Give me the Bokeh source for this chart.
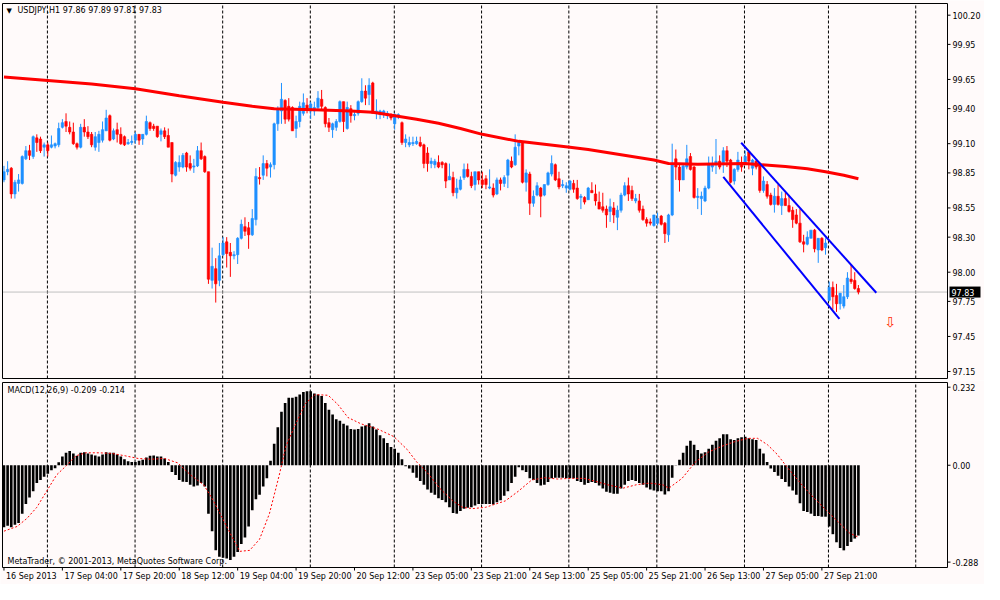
from bokeh.plotting import figure
from bokeh.layouts import column
from bokeh.models import Range1d
from bokeh.embed import file_html
from bokeh.resources import INLINE
from bokeh.core.properties import value

# ---------------- data ----------------
opens = [
    98.79, 98.86, 98.89, 98.67, 98.76, 98.76, 98.97, 99.04, 98.99, 99.15,
    99.14, 99.07, 99.09, 99.07, 99.08, 99.09, 99.24, 99.29, 99.24, 99.20,
    99.10, 99.07, 99.24, 99.20, 99.18, 99.07, 99.11, 99.13, 99.21, 99.34,
    99.14, 99.22, 99.18, 99.16, 99.10, 99.11, 99.13, 99.18, 99.14, 99.18,
    99.28, 99.25, 99.25, 99.18, 99.21, 99.17, 99.11, 98.83, 98.90, 98.90,
    99.02, 98.93, 98.90, 98.91, 99.04, 98.99, 98.86, 97.93, 98.03, 97.93,
    98.15, 98.26, 98.17, 98.14, 98.15, 98.29, 98.39, 98.38, 98.32, 98.45,
    98.81, 98.83, 98.93, 98.90, 98.92, 99.27, 99.38, 99.47, 99.42, 99.41,
    99.23, 99.29, 99.36, 99.43, 99.38, 99.38, 99.41, 99.48, 99.41, 99.28,
    99.22, 99.24, 99.29, 99.46, 99.23, 99.40, 99.34, 99.36, 99.46, 99.55,
    99.52, 99.62, 99.36, 99.35, 99.35, 99.34, 99.35, 99.27, 99.33, 99.28,
    99.11, 99.09, 99.10, 99.10, 99.11, 99.09, 99.02, 98.93, 98.92, 98.94,
    98.94, 98.93, 98.79, 98.81, 98.68, 98.71, 98.81, 98.88, 98.82, 98.75,
    98.86, 98.79, 98.80, 98.72, 98.72, 98.67, 98.79, 98.76, 98.83, 98.95,
    98.92, 99.08, 99.11, 98.77, 98.84, 98.59, 98.66, 98.72, 98.66, 98.75,
    98.84, 98.92, 98.80, 98.74, 98.72, 98.71, 98.76, 98.72, 98.64, 98.64,
    98.62, 98.70, 98.67, 98.60, 98.56, 98.54, 98.52, 98.55, 98.47, 98.53,
    98.66, 98.74, 98.70, 98.61, 98.61, 98.54, 98.45, 98.43, 98.40, 98.42,
    98.48, 98.42, 98.32, 98.49, 98.97, 98.90, 98.79, 98.90, 98.99, 98.90,
    98.64, 98.63, 98.61, 98.72, 98.90, 98.92, 98.95, 98.94, 99.04, 98.96,
    98.78, 98.88, 98.94, 98.94, 99.03, 98.89, 98.95, 98.92, 98.70, 98.75,
    98.66, 98.58, 98.65, 98.57, 98.63, 98.57, 98.53, 98.49, 98.42, 98.26,
    98.24, 98.29, 98.36, 98.19, 98.29, 98.21, 97.76, 97.87, 97.80, 97.73,
    97.71, 97.79, 97.94, 97.93, 97.86,
]
highs = [
    98.91, 98.95, 98.90, 98.79, 98.84, 99.00, 99.08, 99.09, 99.17, 99.18,
    99.16, 99.11, 99.11, 99.17, 99.11, 99.28, 99.31, 99.36, 99.29, 99.28,
    99.11, 99.27, 99.31, 99.25, 99.20, 99.20, 99.21, 99.29, 99.39, 99.35,
    99.23, 99.28, 99.24, 99.17, 99.14, 99.17, 99.20, 99.18, 99.18, 99.34,
    99.29, 99.27, 99.25, 99.23, 99.24, 99.23, 99.11, 98.95, 99.00, 99.02,
    99.03, 99.00, 98.97, 99.08, 99.11, 99.00, 98.86, 98.21, 98.12, 98.25,
    98.30, 98.30, 98.25, 98.18, 98.30, 98.45, 98.47, 98.43, 98.54, 98.89,
    98.90, 99.00, 98.96, 98.94, 99.28, 99.42, 99.62, 99.48, 99.49, 99.42,
    99.34, 99.46, 99.53, 99.49, 99.46, 99.46, 99.55, 99.56, 99.42, 99.32,
    99.28, 99.31, 99.47, 99.46, 99.46, 99.43, 99.38, 99.47, 99.66, 99.60,
    99.66, 99.63, 99.48, 99.39, 99.39, 99.38, 99.36, 99.36, 99.36, 99.29,
    99.18, 99.16, 99.16, 99.16, 99.16, 99.10, 99.07, 98.98, 98.97, 99.00,
    98.95, 98.94, 98.93, 98.86, 98.80, 98.82, 98.93, 98.93, 98.86, 98.86,
    98.86, 98.86, 98.83, 98.88, 98.76, 98.81, 98.81, 98.83, 98.97, 98.99,
    99.18, 99.11, 99.11, 98.88, 98.86, 98.70, 98.77, 98.73, 98.75, 98.86,
    99.00, 98.93, 98.86, 98.79, 98.77, 98.79, 98.79, 98.79, 98.67, 98.65,
    98.73, 98.77, 98.75, 98.69, 98.68, 98.57, 98.63, 98.60, 98.57, 98.68,
    98.77, 98.81, 98.74, 98.67, 98.67, 98.57, 98.47, 98.46, 98.49, 98.51,
    98.49, 98.43, 98.50, 99.10, 99.05, 98.93, 98.93, 99.09, 99.02, 98.91,
    98.72, 98.69, 98.74, 98.99, 98.99, 99.14, 99.00, 99.07, 99.08, 98.97,
    98.89, 99.03, 98.99, 99.04, 99.03, 98.97, 98.96, 98.94, 98.82, 98.78,
    98.68, 98.72, 98.75, 98.69, 98.68, 98.66, 98.56, 98.54, 98.54, 98.32,
    98.35, 98.36, 98.37, 98.29, 98.30, 98.29, 97.92, 97.92, 97.90, 97.82,
    97.89, 98.00, 98.07, 98.00, 97.89,
]
lows = [
    98.77, 98.83, 98.63, 98.63, 98.69, 98.75, 98.96, 98.96, 98.97, 99.03,
    99.02, 98.99, 98.99, 99.06, 99.06, 99.07, 99.23, 99.20, 99.18, 99.09,
    99.05, 99.06, 99.16, 99.14, 99.07, 99.04, 99.03, 99.11, 99.21, 99.12,
    99.13, 99.11, 99.09, 99.08, 99.09, 99.09, 99.10, 99.09, 99.09, 99.17,
    99.21, 99.21, 99.15, 99.12, 99.14, 99.07, 98.77, 98.82, 98.86, 98.89,
    98.86, 98.87, 98.85, 98.90, 98.96, 98.85, 97.90, 97.86, 97.74, 97.88,
    98.14, 98.04, 97.96, 98.11, 98.07, 98.28, 98.31, 98.20, 98.31, 98.40,
    98.75, 98.79, 98.82, 98.81, 98.88, 99.21, 99.27, 99.27, 99.29, 99.21,
    99.15, 99.24, 99.34, 99.36, 99.31, 99.34, 99.39, 99.38, 99.24, 99.20,
    99.15, 99.21, 99.28, 99.20, 99.22, 99.28, 99.30, 99.34, 99.45, 99.43,
    99.43, 99.36, 99.31, 99.31, 99.32, 99.31, 99.30, 99.22, 99.31, 99.09,
    99.07, 99.07, 99.08, 99.09, 99.07, 98.89, 98.86, 98.89, 98.89, 98.89,
    98.89, 98.72, 98.79, 98.65, 98.63, 98.70, 98.79, 98.81, 98.72, 98.70,
    98.75, 98.72, 98.71, 98.71, 98.64, 98.66, 98.70, 98.73, 98.72, 98.89,
    98.91, 99.00, 98.76, 98.69, 98.49, 98.56, 98.65, 98.47, 98.65, 98.74,
    98.82, 98.78, 98.71, 98.72, 98.68, 98.70, 98.68, 98.62, 98.54, 98.58,
    98.62, 98.68, 98.57, 98.54, 98.51, 98.38, 98.43, 98.42, 98.36, 98.51,
    98.65, 98.61, 98.61, 98.59, 98.51, 98.44, 98.39, 98.40, 98.39, 98.40,
    98.40, 98.25, 98.26, 98.48, 98.79, 98.69, 98.79, 98.88, 98.87, 98.63,
    98.54, 98.49, 98.60, 98.71, 98.86, 98.84, 98.88, 98.85, 98.90, 98.76,
    98.75, 98.86, 98.86, 98.93, 98.88, 98.83, 98.88, 98.68, 98.68, 98.63,
    98.57, 98.51, 98.57, 98.49, 98.57, 98.51, 98.38, 98.41, 98.25, 98.17,
    98.23, 98.29, 98.17, 98.08, 98.18, 98.15, 97.75, 97.68, 97.66, 97.68,
    97.69, 97.77, 97.90, 97.85, 97.81,
]
closes = [
    98.86, 98.88, 98.67, 98.77, 98.79, 98.99, 99.04, 99.00, 99.16, 99.11,
    99.04, 99.09, 99.04, 99.09, 99.10, 99.23, 99.28, 99.25, 99.20, 99.10,
    99.07, 99.24, 99.20, 99.16, 99.09, 99.16, 99.18, 99.22, 99.32, 99.13,
    99.21, 99.18, 99.10, 99.09, 99.11, 99.12, 99.18, 99.13, 99.18, 99.29,
    99.23, 99.23, 99.16, 99.21, 99.16, 99.07, 98.84, 98.94, 98.94, 99.00,
    98.90, 98.89, 98.91, 99.04, 98.97, 98.86, 97.94, 98.05, 97.90, 98.14,
    98.25, 98.16, 98.14, 98.15, 98.29, 98.41, 98.35, 98.32, 98.46, 98.82,
    98.80, 98.93, 98.89, 98.92, 99.27, 99.39, 99.48, 99.31, 99.31, 99.21,
    99.29, 99.42, 99.45, 99.40, 99.44, 99.41, 99.49, 99.42, 99.27, 99.24,
    99.27, 99.29, 99.46, 99.29, 99.41, 99.34, 99.35, 99.46, 99.55, 99.49,
    99.60, 99.36, 99.38, 99.38, 99.38, 99.36, 99.32, 99.35, 99.35, 99.11,
    99.14, 99.11, 99.11, 99.12, 99.08, 98.93, 98.93, 98.95, 98.95, 98.90,
    98.92, 98.78, 98.82, 98.68, 98.72, 98.79, 98.88, 98.82, 98.74, 98.86,
    98.79, 98.75, 98.75, 98.73, 98.66, 98.79, 98.76, 98.81, 98.96, 98.90,
    99.07, 99.11, 98.77, 98.85, 98.59, 98.65, 98.74, 98.65, 98.75, 98.85,
    98.93, 98.79, 98.73, 98.75, 98.74, 98.78, 98.71, 98.63, 98.65, 98.60,
    98.72, 98.68, 98.61, 98.54, 98.53, 98.49, 98.56, 98.49, 98.53, 98.66,
    98.74, 98.67, 98.63, 98.63, 98.53, 98.45, 98.42, 98.42, 98.49, 98.46,
    98.41, 98.33, 98.49, 98.92, 98.90, 98.79, 98.91, 98.97, 98.88, 98.64,
    98.65, 98.65, 98.72, 98.92, 98.93, 98.95, 98.90, 99.04, 98.95, 98.77,
    98.88, 98.96, 98.90, 98.99, 98.95, 98.96, 98.90, 98.70, 98.78, 98.65,
    98.58, 98.65, 98.58, 98.63, 98.57, 98.52, 98.45, 98.42, 98.26, 98.24,
    98.30, 98.36, 98.20, 98.29, 98.19, 98.25, 97.87, 97.79, 97.73, 97.82,
    97.79, 97.95, 97.92, 97.86, 97.83,
]
# 200-period moving average (red), sampled at bar positions
ma_bar = [0, 12, 24, 36, 48, 60, 68, 74, 85, 95, 101, 107, 113, 119, 125, 131,
          141, 148, 155, 160, 166, 172, 178, 182, 190, 203, 214, 220, 225, 230, 234]
ma_val = [99.67, 99.64, 99.61, 99.57, 99.51, 99.455, 99.42, 99.40, 99.39, 99.38,
          99.37, 99.34, 99.31, 99.275, 99.23, 99.18, 99.12, 99.095, 99.07, 99.05,
          99.02, 98.99, 98.96, 98.93, 98.925, 98.93, 98.905, 98.885, 98.86, 98.83, 98.80]
# down-trend channel (blue)
chan_x0 = [201.9, 197.0]
chan_y0 = [99.108, 98.815]
chan_x1 = [238.9, 228.8]
chan_y1 = [97.824, 97.601]
# sell arrow
arrow_bar = [242.7]
arrow_price = [97.57]

# MACD(12,26,9) main (histogram) and signal
macd = [
    -0.184, -0.180, -0.184, -0.177, -0.172, -0.144, -0.115, -0.096, -0.077, -0.053,
    -0.044, -0.034, -0.025, -0.015, -0.009, 0.009, 0.026, 0.037, 0.042, 0.035,
    0.028, 0.037, 0.039, 0.035, 0.032, 0.029, 0.026, 0.032, 0.039, 0.037,
    0.037, 0.032, 0.026, 0.018, 0.012, 0.010, 0.010, 0.013, 0.016, 0.023,
    0.028, 0.029, 0.026, 0.026, 0.020, 0.010, -0.020, -0.029, -0.044, -0.049,
    -0.050, -0.058, -0.063, -0.060, -0.053, -0.063, -0.144, -0.196, -0.253, -0.272,
    -0.275, -0.277, -0.282, -0.272, -0.258, -0.234, -0.215, -0.182, -0.134, -0.101,
    -0.088, -0.063, -0.039, 0.013, 0.064, 0.113, 0.159, 0.185, 0.201, 0.201,
    0.204, 0.210, 0.218, 0.220, 0.220, 0.213, 0.210, 0.206, 0.185, 0.165,
    0.151, 0.137, 0.132, 0.123, 0.118, 0.108, 0.106, 0.108, 0.115, 0.118,
    0.125, 0.115, 0.106, 0.089, 0.080, 0.066, 0.054, 0.049, 0.037, 0.018,
    -0.003, -0.010, -0.022, -0.037, -0.047, -0.058, -0.072, -0.082, -0.088, -0.098,
    -0.103, -0.110, -0.125, -0.142, -0.144, -0.136, -0.129, -0.126, -0.125, -0.120,
    -0.115, -0.115, -0.115, -0.115, -0.117, -0.110, -0.104, -0.091, -0.077, -0.053,
    -0.034, -0.006, -0.015, -0.020, -0.039, -0.044, -0.053, -0.060, -0.058, -0.050,
    -0.039, -0.037, -0.037, -0.037, -0.039, -0.039, -0.039, -0.047, -0.050, -0.058,
    -0.053, -0.050, -0.053, -0.060, -0.069, -0.079, -0.082, -0.085, -0.085, -0.069,
    -0.058, -0.047, -0.044, -0.047, -0.053, -0.058, -0.066, -0.072, -0.075, -0.077,
    -0.077, -0.087, -0.077, -0.037, -0.001, 0.016, 0.037, 0.058, 0.073, 0.061,
    0.045, 0.035, 0.039, 0.049, 0.061, 0.073, 0.080, 0.092, 0.092, 0.077,
    0.075, 0.080, 0.083, 0.085, 0.080, 0.077, 0.075, 0.049, 0.035, 0.010,
    -0.010, -0.020, -0.031, -0.041, -0.050, -0.063, -0.075, -0.088, -0.113, -0.136,
    -0.139, -0.144, -0.151, -0.151, -0.153, -0.153, -0.182, -0.205, -0.229, -0.246,
    -0.253, -0.240, -0.228, -0.218, -0.209,
]
sig_bar = [0, 3.6, 6.3, 9, 11.7, 14.4, 17.1, 19.7, 22.4, 26, 29.6, 33.2, 36.8, 40.4,
           44, 47.6, 51.1, 54.7, 57.4, 60.1, 62.8, 64.6, 67.3, 70, 72.7, 75.4, 77.2,
           79.9, 82.6, 85.2, 88.8, 91.5, 94.2, 97.8, 102.3, 106.8, 110.4, 113.1, 115.8,
           119.3, 122.9, 125.6, 128.3, 131.9, 137.3, 140.9, 144.5, 148.1, 151.6, 155.2,
           158.8, 162.4, 166, 169.6, 173.2, 176.8, 180.4, 182.1, 185.7, 189.3, 192.9,
           196.5, 200.1, 203.7, 206.4, 209.1, 211.8, 214.5, 218.1, 221.7, 225.2, 228.8,
           231.5, 234]
sig_val = [-0.196, -0.182, -0.158, -0.125, -0.077, -0.029, -0.001, 0.028, 0.037, 0.037,
           0.035, 0.028, 0.020, 0.018, 0.020, 0.007, -0.029, -0.058, -0.106, -0.163,
           -0.220, -0.256, -0.253, -0.220, -0.144, -0.029, 0.056, 0.123, 0.184, 0.210,
           0.208, 0.180, 0.142, 0.123, 0.108, 0.085, 0.047, 0.009, -0.020, -0.068,
           -0.106, -0.125, -0.129, -0.125, -0.106, -0.077, -0.044, -0.037, -0.041, -0.039,
           -0.039, -0.049, -0.060, -0.068, -0.058, -0.053, -0.058, -0.068, -0.039, 0.009,
           0.039, 0.056, 0.070, 0.080, 0.080, 0.061, 0.032, -0.006, -0.053, -0.096,
           -0.134, -0.172, -0.201, -0.214]

price_ticks = [100.20, 99.95, 99.65, 99.40, 99.10, 98.85, 98.55, 98.30, 98.00, 97.75, 97.45, 97.15]
macd_ticks = [0.232, 0.0, -0.288]
macd_tick_labels = ["0.232", "0.00", "-0.288"]
time_tick_bars = [0, 16, 32, 48, 64, 80, 96, 112, 128, 144, 160, 176, 192, 208, 224]
time_tick_labels = ["16 Sep 2013", "17 Sep 04:00", "17 Sep 20:00", "18 Sep 12:00",
                    "19 Sep 04:00", "19 Sep 20:00", "20 Sep 12:00", "23 Sep 05:00",
                    "23 Sep 21:00", "24 Sep 13:00", "25 Sep 05:00", "25 Sep 21:00",
                    "26 Sep 13:00", "27 Sep 05:00", "27 Sep 21:00"]
grid_bars = [11.9, 35.9, 59.9, 83.9, 106.9, 130.8, 154.7, 178.8, 202.8, 225.8, 249.7]

title_text = "USDJPY,H1 97.86 97.89 97.81 97.83"
macd_text = "MACD(12,26,9) -0.209 -0.214"
copy_text = "MetaTrader, \u00a9 2001-2013, MetaQuotes Software Corp."

# ---------------- layout / styling ----------------
BG = "#FFFAFA"
BULL = "#1E90FF"
BEAR = "#FF0000"
FONT = value("DejaVu Sans")
FS = "8px"
W = 984

# plot boxes in bar / value units
X0, X1 = -0.4, 258.4
P_LO, P_HI = 97.09, 100.30
M_LO, M_HI = -0.304, 0.246
BOX_W = 945                    # px width of the plotting box
PX = BOX_W / (X1 - X0)         # px per bar
MAIN_H, MAIN_TOP, MAIN_BOT = 375, 3, 2
MACD_H, MACD_TOP, MACD_BOT = 185, 2, 17
PY = MAIN_H / (P_HI - P_LO)
MY = MACD_H / (M_HI - M_LO)

x_start = X0 - 2 / PX
xr = Range1d(x_start, x_start + W / PX)


def make_fig(h, y0, y1):
    f = figure(width=W, height=h, x_range=xr, y_range=Range1d(y0, y1),
               output_backend="svg", toolbar_location=None,
               x_axis_location=None, y_axis_location=None, min_border=0,
               background_fill_color=BG, border_fill_color=BG, outline_line_color=None)
    f.grid.visible = False
    return f


def txt(f, xs, ys, texts, color="black", size=FS, align="left"):
    f.text(x=xs, y=ys, text=texts, text_color=color, text_font=FONT, text_font_size=size,
           text_align=align, text_baseline="middle")


# ---------------- main price panel ----------------
p = make_fig(MAIN_TOP + MAIN_H + MAIN_BOT, P_LO - MAIN_BOT / PY, P_HI + MAIN_TOP / PY)

p.segment(x0=grid_bars, y0=[P_LO] * len(grid_bars), x1=grid_bars, y1=[P_HI] * len(grid_bars),
          line_color="black", line_dash="3 2", line_width=1)
p.segment(x0=[X0], y0=[closes[-1]], x1=[X1], y1=[closes[-1]], line_color="#C0C0C0", line_width=1)

bars = list(range(len(closes)))
cols = [BULL if c >= o else BEAR for o, c in zip(opens, closes)]
p.segment(x0=bars, y0=lows, x1=bars, y1=highs, line_color=cols, line_width=1)
p.vbar(x=bars, width=0.66,
       top=[max(o, c) for o, c in zip(opens, closes)],
       bottom=[min(o, c) for o, c in zip(opens, closes)],
       fill_color=cols, line_color=cols, line_width=0.6)

p.line(ma_bar, ma_val, line_color="#FF0000", line_width=3)
p.segment(x0=chan_x0, y0=chan_y0, x1=chan_x1, y1=chan_y1, line_color="#0000FF", line_width=2)
txt(p, arrow_bar, arrow_price, ["\u21e9"], color="#FF2a00", size="14px", align="center")

# frame of the price box
p.quad(left=[X0], right=[X1], bottom=[P_LO], top=[P_HI], fill_color=None,
       line_color="black", line_width=1)
# right price scale
p.segment(x0=[X1] * len(price_ticks), y0=price_ticks, x1=[X1 + 3 / PX] * len(price_ticks),
          y1=price_ticks, line_color="black", line_width=1)
txt(p, [X1 + 5 / PX] * len(price_ticks), price_ticks, [f"{t:.2f}" for t in price_ticks])
# current price tag
p.quad(left=[X1 + 2 / PX], right=[X1 + 33 / PX], bottom=[closes[-1] - 5.5 / PY],
       top=[closes[-1] + 5.5 / PY], fill_color="black", line_color=None)
txt(p, [X1 + 4 / PX], [closes[-1]], [f"{closes[-1]:.2f}"], color="white")

# header text
txt(p, [X0 + 4 / PX], [P_HI - 7 / PY], ["\u25bc"], size="7px")
txt(p, [X0 + 15 / PX], [P_HI - 7 / PY], [title_text])

# ---------------- MACD panel ----------------
m = make_fig(MACD_TOP + MACD_H + MACD_BOT, M_LO - MACD_BOT / MY, M_HI + MACD_TOP / MY)

m.segment(x0=grid_bars, y0=[M_LO] * len(grid_bars), x1=grid_bars, y1=[M_HI] * len(grid_bars),
          line_color="black", line_dash="3 2", line_width=1)
m.vbar(x=bars, width=0.72, top=macd, bottom=0, fill_color="black", line_color=None)
m.line(sig_bar, sig_val, line_color="#FF0000", line_width=1, line_dash="2 2")

m.quad(left=[X0], right=[X1], bottom=[M_LO], top=[M_HI], fill_color=None,
       line_color="black", line_width=1)
m.segment(x0=[X1] * len(macd_ticks), y0=macd_ticks, x1=[X1 + 3 / PX] * len(macd_ticks),
          y1=macd_ticks, line_color="black", line_width=1)
txt(m, [X1 + 5 / PX] * len(macd_ticks), macd_ticks, macd_tick_labels)

# time scale under the MACD box
m.segment(x0=time_tick_bars, y0=[M_LO] * len(time_tick_bars), x1=time_tick_bars,
          y1=[M_LO - 3 / MY] * len(time_tick_bars), line_color="black", line_width=1)
txt(m, [b + 2 / PX for b in time_tick_bars], [M_LO - 9 / MY] * len(time_tick_bars),
    time_tick_labels)

txt(m, [X0 + 5 / PX], [M_HI - 8 / MY], [macd_text])
txt(m, [X0 + 5 / PX], [M_LO + 6 / MY], [copy_text])

layout = column(p, m, spacing=0)
open("out.html", "w").write(file_html(layout, INLINE))
